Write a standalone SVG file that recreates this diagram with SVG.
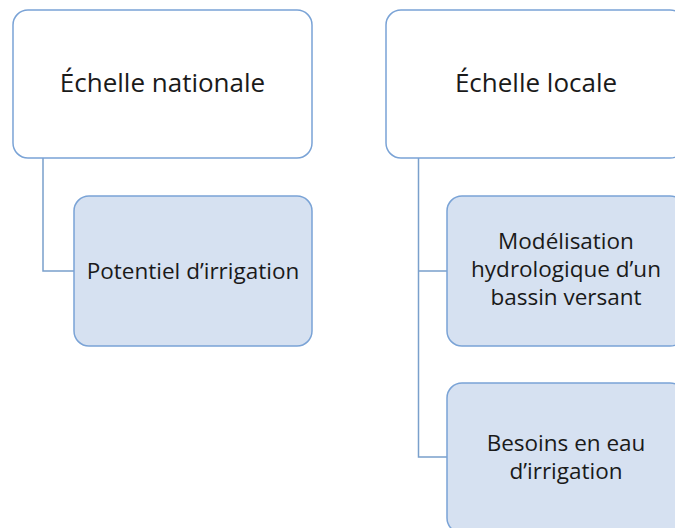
<svg xmlns="http://www.w3.org/2000/svg" width="675" height="528" viewBox="0 0 675 528">
<style>
.top{fill:#ffffff;stroke:#7aa3d6;stroke-width:1.5}
.sub{fill:#d6e1f1;stroke:#7aa3d6;stroke-width:1.5}
.conn{fill:none;stroke:#7aa0cc;stroke-width:1.5}
text{font-family:"Open Sans","Liberation Sans",sans-serif;fill:#1a1a1a;text-anchor:middle}
.big{font-size:26px}
.sm{font-size:22.5px}
</style>
<rect width="675" height="528" fill="#ffffff"/>
<g id="connectors">
<path class="conn" d="M43,158 V271 H74"/>
<path class="conn" d="M418.5,158 V457 H447 M418.5,271 H447"/>
</g>
<g id="n1">
<rect class="top" x="13" y="10" width="299" height="148" rx="15"/>
<text class="big" x="162.5" y="92">Échelle nationale</text>
</g>
<g id="n2">
<rect class="sub" x="74" y="196" width="238" height="150" rx="15"/>
<text class="sm" x="193" y="279">Potentiel d’irrigation</text>
</g>
<g id="n3">
<rect class="top" x="386" y="10" width="299" height="148" rx="15"/>
<text class="big" x="536" y="92">Échelle locale</text>
</g>
<g id="n4">
<rect class="sub" x="447" y="196" width="238" height="150" rx="15"/>
<text class="sm" x="566" y="249">Modélisation</text>
<text class="sm" x="566" y="277">hydrologique d’un</text>
<text class="sm" x="566" y="305">bassin versant</text>
</g>
<g id="n5">
<rect class="sub" x="447" y="383" width="238" height="150" rx="15"/>
<text class="sm" x="566" y="451">Besoins en eau</text>
<text class="sm" x="566" y="479">d’irrigation</text>
</g>
</svg>
